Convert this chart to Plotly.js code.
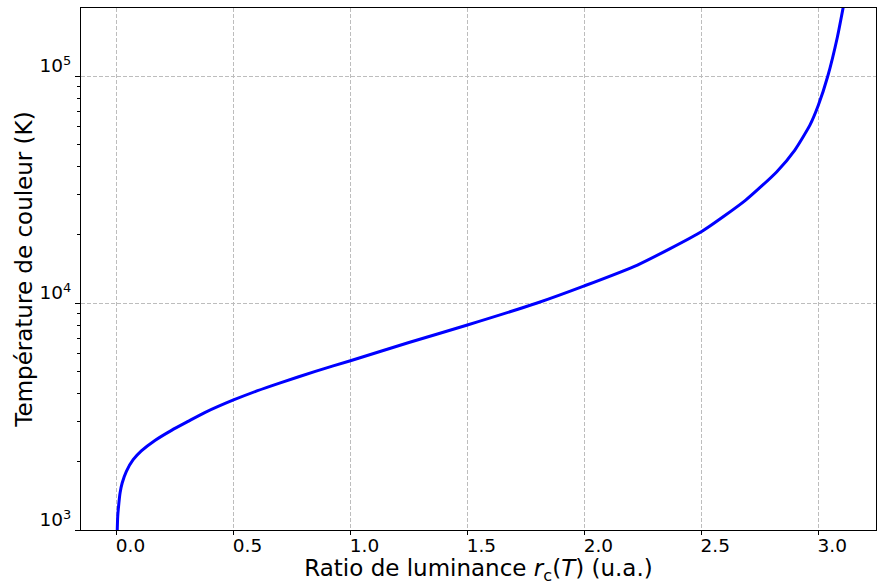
<!DOCTYPE html>
<html>
<head>
<meta charset="utf-8">
<script src="https://cdn.plot.ly/plotly-3.0.1.min.js"></script>
<style>html,body{margin:0;padding:0;background:#fff;}#chart{width:877px;height:585px;}</style>
</head>
<body>
<div id="chart"></div>
<script>
// Luminance ratio r_c(T) (x) vs colour temperature T in K (y, log scale)
const ratio = [0.003, 0.005, 0.010, 0.015, 0.024, 0.042, 0.071, 0.106, 0.164, 0.235, 0.306, 0.377, 0.50, 0.60, 0.70, 0.85, 1.00, 1.25, 1.50, 1.798, 2.00, 2.227, 2.50, 2.69, 2.822, 2.90, 2.965, 3.00, 3.041, 3.082, 3.11];
const temperature = [1000, 1148, 1315, 1456, 1611, 1813, 2040, 2230, 2480, 2748, 3010, 3290, 3740, 4100, 4450, 5000, 5570, 6700, 8000, 10000, 11900, 14700, 20600, 28400, 37800, 47200, 60900, 74100, 100000, 148600, 209000];
const yMajorVals = [1000, 10000, 100000];
const yMajorText = ['10<sup>3</sup>', '10<sup>4</sup>', '10<sup>5</sup>'];
const yMinorVals = [2000, 3000, 4000, 5000, 6000, 7000, 8000, 9000, 20000, 30000, 40000, 50000, 60000, 70000, 80000, 90000, 200000];
const xTickVals = [0.0, 0.5, 1.0, 1.5, 2.0, 2.5, 3.0];
const xTickText = ['0.0', '0.5', '1.0', '1.5', '2.0', '2.5', '3.0'];

const font = 'DejaVu Sans, sans-serif';
const trace = {
  x: ratio, y: temperature, type: 'scatter', mode: 'lines',
  line: {color: '#0000ff', width: 3, shape: 'spline', smoothing: 0.55}, hoverinfo: 'skip'
};
const layout = {
  width: 877, height: 585,
  margin: {l: 81, r: 1, t: 8, b: 55, pad: 0},
  paper_bgcolor: '#ffffff', plot_bgcolor: '#ffffff',
  showlegend: false,
  font: {family: font, color: '#000', size: 18.5},
  xaxis: {
    range: [-0.152, 3.247],
    tickvals: xTickVals, ticktext: xTickText,
    ticks: 'outside', ticklen: 4, tickwidth: 1, tickcolor: '#000',
    ticklabelshift: 14, ticklabelstandoff: -5,
    showline: true, linecolor: '#000', linewidth: 1, mirror: true,
    showgrid: true, gridcolor: '#bdbdbd', gridwidth: 1, griddash: '4px,2px',
    zeroline: false,
    tickfont: {family: font, size: 18.5, color: '#000'},
    title: {text: 'Ratio de luminance <i>r</i><sub>c</sub>(<i>T</i>) (u.a.)', font: {family: font, size: 23, color: '#000'}, standoff: 6},
    automargin: false
  },
  yaxis: {
    type: 'log',
    range: [3, 5.2996],
    tickvals: yMajorVals, ticktext: yMajorText,
    ticks: 'outside', ticklen: 5, tickwidth: 1, tickcolor: '#000',
    ticklabelshift: -10, ticklabelstandoff: 0,
    minor: {tickvals: yMinorVals, ticks: 'outside', ticklen: 3, tickwidth: 1, tickcolor: '#000', showgrid: false},
    showline: true, linecolor: '#000', linewidth: 1, mirror: true,
    showgrid: true, gridcolor: '#bdbdbd', gridwidth: 1, griddash: '4px,2px',
    zeroline: false,
    tickfont: {family: font, size: 18.5, color: '#000'},
    title: {text: 'Température de couleur (K)', font: {family: font, size: 23, color: '#000'}, standoff: 0},
    automargin: false
  }
};
Plotly.newPlot('chart', [trace], layout, {staticPlot: true, displayModeBar: false});
</script>
</body>
</html>
